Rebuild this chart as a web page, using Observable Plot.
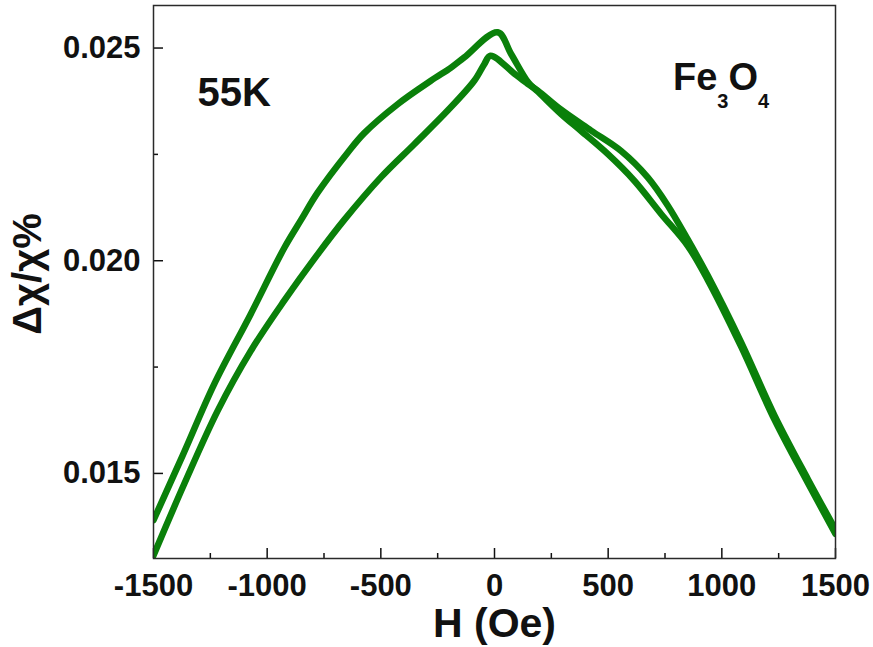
<!DOCTYPE html>
<html><head><meta charset="utf-8">
<script src="https://cdn.jsdelivr.net/npm/d3@7"></script>
<script src="https://cdn.jsdelivr.net/npm/@observablehq/plot@0.6"></script>
<style>
body{margin:0;background:#fff;}
#chart svg{display:block;}
</style></head><body><div id="chart"></div>
<script>
// Branch 1 (upper on the left, peak near +14 Oe)
const fieldA = [-1500,-1372,-1233,-1072,-925,-851,-778,-646,-573,-426,-280,-191,-133,14,73,150,190,293,381,498,615,733,850,938,1085,1232,1378,1500];
const chiA   = [0.01390,0.01542,0.01710,0.01875,0.02030,0.02096,0.02160,0.02254,0.02300,0.02368,0.02423,0.02454,0.02478,0.02537,0.02486,0.02418,0.02398,0.02345,0.02305,0.02251,0.02188,0.02110,0.02035,0.01955,0.01798,0.01626,0.01478,0.01358];
// Branch 2 (lower on the left, peak near -18 Oe)
const fieldB = [-1500,-1365,-1218,-1072,-925,-778,-661,-500,-353,-206,-89,-45,-18,87,146,190,293,425,557,674,762,850,938,1085,1232,1378,1500];
const chiB   = [0.01307,0.01475,0.01647,0.01788,0.01906,0.02015,0.02096,0.02196,0.02274,0.02353,0.02423,0.02462,0.02482,0.02440,0.02416,0.02400,0.02355,0.02306,0.02258,0.02196,0.02130,0.02050,0.01965,0.01808,0.01636,0.01487,0.01368];

const xTicks = [-1500,-1000,-500,0,500,1000,1500];
const xMinor = [-1250,-750,-250,250,750,1250];
const yTicks = [0.015,0.020,0.025];
const yMinor = [0.0175,0.0225];

const data = [
  ...fieldA.map((h,i)=>({H:h, v:chiA[i], branch:"A"})),
  ...fieldB.map((h,i)=>({H:h, v:chiB[i], branch:"B"}))
];

const W=873, HT=647, mL=153, mR=38, mT=5, mB=89;
const frameW = W-mL-mR, frameH = HT-mT-mB;
const ink = "#111";
const font = "'Liberation Sans', Arial, sans-serif";

const plot = Plot.plot({
  width: W, height: HT,
  marginLeft: mL, marginRight: mR, marginTop: mT, marginBottom: mB,
  style: {fontFamily: font, fontWeight: "bold", fontSize: "31px", background: "#fff", color: ink},
  x: {domain: [-1500,1500]},
  y: {domain: [0.013,0.026]},
  marks: [
    Plot.axisX(xTicks, {tickSize:0, tickPadding:15, tickFormat: d=>String(d), label:null}),
    Plot.axisY(yTicks, {tickSize:0, tickPadding:13, tickFormat: d3.format(".3f"), label:null}),
    Plot.tickX(xTicks, {x:d=>d, insetTop: frameH-10, stroke: ink, strokeWidth:1.5}),
    Plot.tickX(xMinor, {x:d=>d, insetTop: frameH-5, stroke: ink, strokeWidth:1.5}),
    Plot.tickY(yTicks, {y:d=>d, insetRight: frameW-10, stroke: ink, strokeWidth:1.5}),
    Plot.tickY(yMinor, {y:d=>d, insetRight: frameW-5, stroke: ink, strokeWidth:1.5}),
    Plot.line(data, {x:"H", y:"v", z:"branch", stroke:"#0a800a", strokeWidth:6.5, curve:"catmull-rom", clip:true}),
    Plot.frame({stroke:"#2a2a2a", strokeWidth:1.5}),
    Plot.text(["H (Oe)"], {frameAnchor:"bottom", lineAnchor:"middle", textAnchor:"middle", dy:65, fontSize:41, fontWeight:"bold", fill: ink}),
    Plot.text(["Δχ/χ%"], {frameAnchor:"left", lineAnchor:"middle", textAnchor:"middle", rotate:-90, dx:-125, dy:-8, fontSize:40, fontWeight:"bold", fill: ink}),
    Plot.text(["55K"], {frameAnchor:"top-left", lineAnchor:"middle", textAnchor:"start", dx:44, dy:88, fontSize:40, fontWeight:"bold", fill: ink})
  ]
});

// chemical formula annotation with subscripts
const t = d3.select(plot).append("text")
  .attr("x", 673).attr("y", 90)
  .attr("text-anchor", "start")
  .attr("font-size", 38).attr("font-weight", "bold")
  .attr("fill", ink)
  .attr("font-family", font);
t.append("tspan").text("Fe");
t.append("tspan").attr("dy", 18).attr("font-size", 20).text("3");
t.append("tspan").attr("dy", -18).text("O");
t.append("tspan").attr("dy", 18).attr("font-size", 20).text("4");

document.getElementById("chart").appendChild(plot);
</script></body></html>
